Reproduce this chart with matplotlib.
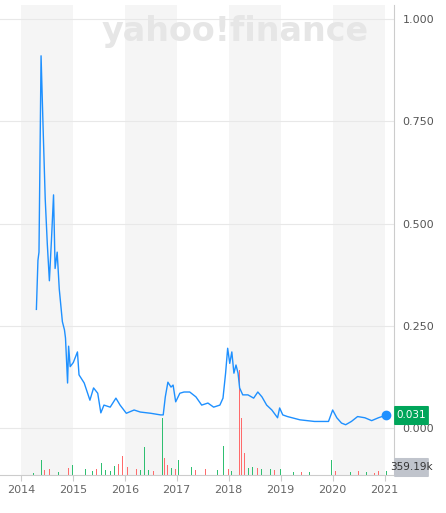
import matplotlib
matplotlib.use("Agg")
import matplotlib.pyplot as plt
from matplotlib.patches import FancyBboxPatch

price_x = [2014.30,2014.33,2014.35,2014.39,2014.43,2014.47,2014.51,2014.55,2014.59,2014.63,2014.66,2014.70,2014.74,
           2014.80,2014.84,2014.86,2014.88,2014.90,2014.92,2014.95,2015.01,2015.09,2015.12,2015.22,2015.33,2015.40,
           2015.48,2015.54,2015.60,2015.72,2015.83,2015.91,2016.03,2016.18,2016.30,2016.50,2016.69,2016.74,2016.78,
           2016.83,2016.89,2016.93,2016.98,2017.06,2017.14,2017.25,2017.37,2017.48,2017.60,2017.71,2017.83,2017.89,
           2017.94,2017.98,2018.02,2018.06,2018.10,2018.14,2018.18,2018.21,2018.27,2018.37,2018.48,2018.56,2018.64,
           2018.73,2018.83,2018.94,2018.98,2019.04,2019.13,2019.37,2019.65,2019.92,2020.00,2020.08,2020.17,2020.25,
           2020.36,2020.48,2020.62,2020.75,2020.88,2021.02]
price_y = [0.29,0.41,0.43,0.91,0.73,0.56,0.45,0.36,0.46,0.57,0.39,0.43,0.34,
           0.26,0.24,0.22,0.166,0.11,0.20,0.15,0.16,0.186,0.13,0.11,0.068,0.098,
           0.085,0.037,0.056,0.051,0.073,0.056,0.036,0.044,0.039,0.036,0.032,0.032,0.076,
           0.112,0.10,0.105,0.064,0.085,0.088,0.088,0.076,0.056,0.061,0.051,0.056,0.073,
           0.134,0.195,0.158,0.186,0.134,0.154,0.134,0.098,0.081,0.081,0.073,0.088,0.076,
           0.056,0.044,0.025,0.049,0.032,0.028,0.020,0.016,0.016,0.044,0.025,0.012,0.008,
           0.016,0.028,0.025,0.018,0.025,0.031]

vol_x = [2014.25,2014.33,2014.40,2014.45,2014.55,2014.62,2014.72,2014.85,2014.92,2015.00,2015.08,2015.18,2015.25,
         2015.38,2015.46,2015.55,2015.63,2015.72,2015.80,2015.88,2015.95,2016.05,2016.12,2016.22,2016.30,2016.38,
         2016.46,2016.55,2016.62,2016.70,2016.73,2016.77,2016.82,2016.90,2016.97,2017.04,2017.12,2017.20,2017.28,
         2017.36,2017.45,2017.55,2017.62,2017.70,2017.78,2017.85,2017.90,2017.95,2018.00,2018.05,2018.12,2018.18,
         2018.21,2018.25,2018.30,2018.38,2018.46,2018.55,2018.63,2018.72,2018.80,2018.88,2018.93,2019.00,2019.10,
         2019.25,2019.40,2019.55,2019.70,2019.85,2019.95,2019.98,2020.05,2020.20,2020.35,2020.50,2020.65,2020.80,
         2020.88,2020.95,2021.03]
vol_h = [2,4,15,5,6,4,3,5,7,10,4,5,6,
         4,6,12,5,4,9,11,19,8,10,6,5,28,
         5,4,6,8,57,17,10,7,6,15,6,9,8,
         5,4,6,7,13,5,9,29,13,6,4,9,12,
         105,57,22,7,8,7,6,7,6,5,21,6,4,
         3,3,3,3,4,8,15,4,3,3,4,3,2,
         4,6,4]
vol_c = ['g','g','g','r','r','r','g','r','r','g','r','r','g',
         'g','r','g','g','g','g','r','r','r','g','r','g','g',
         'g','r','g','g','g','r','r','g','r','g','g','r','g',
         'r','g','r','g','r','g','g','g','r','r','g','r','r',
         'r','r','r','g','g','r','g','r','g','r','r','g','r',
         'g','r','g','r','g','g','g','r','g','g','r','g','r',
         'r','r','g']

years = [2014,2015,2016,2017,2018,2019,2020,2021]
ytick_vals = [0.0,0.25,0.5,0.75,1.0]

W, H = 446, 513
fig = plt.figure(figsize=(W/100, H/100), dpi=100)
L, R, T, B = 0, 394, 5, 475
ax = fig.add_axes([L/W, 1-B/H, (R-L)/W, (B-T)/H])
ybot = (428-475)/409
ax.set_xlim(2013.6, 2021.18)
ax.set_ylim(ybot, (428-5)/409)
for i in range(0, len(years)-1, 2):
    ax.axvspan(years[i], years[i+1], color='#f5f5f5', zorder=0, lw=0)
for v in ytick_vals:
    ax.axhline(v, color='#e8e8e8', lw=0.8, zorder=1)

ax.bar(vol_x, [h/409 for h in vol_h], bottom=ybot, width=0.014,
       color=['#2fbf71' if c == 'g' else '#ff6b6b' for c in vol_c], zorder=2)
ax.plot(price_x, price_y, color='#1e90ff', lw=1.0, zorder=3)
ax.plot([price_x[-1]], [price_y[-1]], 'o', color='#1e90ff', ms=6, zorder=4)

for s in ['top', 'left']:
    ax.spines[s].set_visible(False)
ax.spines['right'].set_color('#cccccc')
ax.spines['bottom'].set_color('#cccccc')
ax.yaxis.tick_right()
ax.set_yticks(ytick_vals)
ax.set_yticklabels(['%.3f' % v for v in ytick_vals], color='#555555', fontsize=8)
ax.set_xticks(years)
ax.set_xticklabels([str(y) for y in years], color='#666666', fontsize=8)
ax.tick_params(axis='y', length=0, pad=6)
ax.tick_params(axis='x', length=4, color='#cccccc')

fig.text(235/W, 1-32/H, 'yahoo!finance', fontsize=24, fontweight='bold', color='#e6e6e6', ha='center', va='center')

def badge(y, text, fc, tc):
    fig.patches.append(FancyBboxPatch((395/W, 1-(y+9)/H), 33/W, 17/H, boxstyle='round,pad=0.002',
                                      transform=fig.transFigure, fc=fc, ec='none', zorder=10))
    fig.text(411/W, 1-y/H, text, fontsize=7.5, color=tc, ha='center', va='center', zorder=11)
badge(415, '0.031', '#00a55a', 'white')
badge(467, '359.19k', '#c0c4cc', '#333333')

fig.savefig('out.png', dpi=100)
